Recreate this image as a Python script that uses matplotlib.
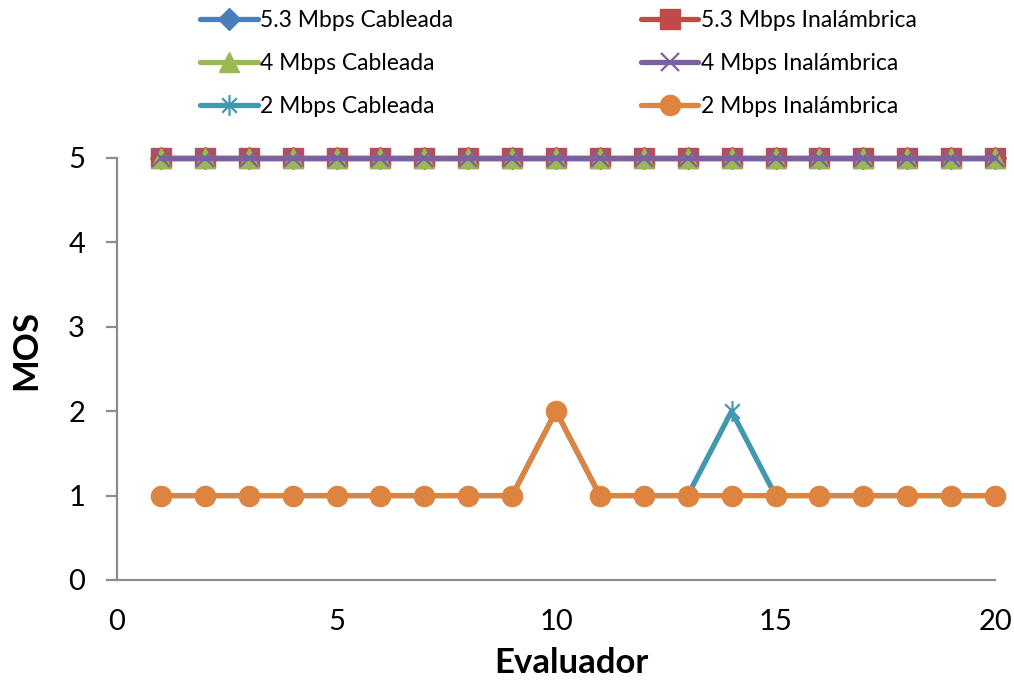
import matplotlib
matplotlib.use("Agg")
import matplotlib.pyplot as plt
from matplotlib.path import Path

evaluadores = list(range(1, 21))
mos_53_cableada = [5] * 20
mos_53_inalambrica = [5] * 20
mos_4_cableada = [5] * 20
mos_4_inalambrica = [5] * 20
mos_2_cableada = [1, 1, 1, 1, 1, 1, 1, 1, 1, 2, 1, 1, 1, 2, 1, 1, 1, 1, 1, 1]
mos_2_inalambrica = [1, 1, 1, 1, 1, 1, 1, 1, 1, 2, 1, 1, 1, 1, 1, 1, 1, 1, 1, 1]

plt.rcParams['font.family'] = ['Lato', 'DejaVu Sans']

# star marker: an "x" crossed by a vertical stroke
star = Path([(-0.7, -0.7), (0.7, 0.7), (-0.7, 0.7), (0.7, -0.7), (0, -1), (0, 1)],
            [Path.MOVETO, Path.LINETO, Path.MOVETO, Path.LINETO, Path.MOVETO, Path.LINETO])

fig = plt.figure(figsize=(10.14, 6.8), dpi=100)
ax = fig.add_axes([117/1014, 1 - 580/680, (995 - 117)/1014, (580 - 158)/680])

lw = 3.8
series = [
    ("5.3 Mbps Cableada", mos_53_cableada, "#4A7EBB", dict(marker="D", ms=11)),
    ("5.3 Mbps Inalámbrica", mos_53_inalambrica, "#BE4B48", dict(marker="s", ms=14)),
    ("4 Mbps Cableada", mos_4_cableada, "#98B954", dict(marker="^", ms=14)),
    ("4 Mbps Inalámbrica", mos_4_inalambrica, "#7D60A0", dict(marker="x", ms=13, mew=1.6)),
    ("2 Mbps Cableada", mos_2_cableada, "#4198AF", dict(marker=star, ms=15, mew=1.6)),
    ("2 Mbps Inalámbrica", mos_2_inalambrica, "#DD8440", dict(marker="o", ms=14.5)),
]

lines = {}
for label, vals, color, mk in series:
    ln, = ax.plot(evaluadores, vals, color=color, lw=lw, label=label,
                  markerfacecolor=color, markeredgecolor=color,
                  solid_capstyle="round", clip_on=False, **mk)
    lines[label] = ln

ax.set_xlim(0, 20)
ax.set_ylim(0, 5)
ax.set_xticks([0, 5, 10, 15, 20])
ax.set_yticks([0, 1, 2, 3, 4, 5])

for side in ("top", "right"):
    ax.spines[side].set_visible(False)
for side in ("left", "bottom"):
    ax.spines[side].set_color("#8C8C8C")
    ax.spines[side].set_linewidth(1.6)

ax.tick_params(axis="y", direction="out", length=8, width=1.6, color="#8C8C8C",
               labelsize=21, pad=15)
ax.tick_params(axis="x", length=0, labelsize=21, pad=21)

ax.set_xlabel("Evaluador", fontsize=25, fontweight="bold", va="center")
ax.xaxis.set_label_coords(0.517, -0.197)
ax.set_ylabel("MOS", fontsize=25, fontweight="bold", va="center")
ax.yaxis.set_label_coords(-0.1036, 0.545)

order = ["5.3 Mbps Cableada", "4 Mbps Cableada", "2 Mbps Cableada",
         "5.3 Mbps Inalámbrica", "4 Mbps Inalámbrica", "2 Mbps Inalámbrica"]
fig.legend([lines[k] for k in order], order, ncol=2, loc="upper left",
           bbox_to_anchor=(190/1014, 1.0), frameon=False, fontsize=16.5,
           handlelength=2.5, handletextpad=0.1, columnspacing=8.2,
           labelspacing=0.95, borderaxespad=0.05)

fig.savefig("out.png", dpi=100)
